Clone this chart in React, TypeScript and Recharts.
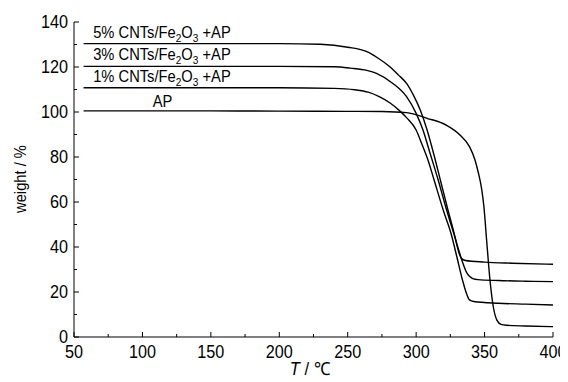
import React from 'react';
import { LineChart, Line, XAxis, YAxis, ReferenceDot } from 'recharts';

// temperature (°C) / weight (%); curves are offset by 10 % each
const apT = [57, 100, 150, 200, 250, 275, 293, 308, 322, 332, 339, 343, 345.5, 348, 349.5, 351.5, 354, 356.5, 359, 362, 366, 380, 400];
const apW = [100.5, 100.5, 100.5, 100.4, 100.3, 100.2, 99.7, 97.2, 94.2, 89.8, 84.6, 78.7, 72.9, 65.3, 58, 43, 25, 13, 7.5, 5.6, 5.2, 4.9, 4.6];

const p1T = [57, 150, 200, 240, 255, 265, 273, 281, 288, 293, 300, 304, 309, 313, 320, 325.5, 330, 334, 337, 339, 342, 360, 380, 400];
const p1W = [110.8, 110.8, 110.8, 110.5, 109.9, 108.8, 106.8, 104, 100.5, 97.5, 92, 86, 78, 70, 56, 46, 35, 25, 19, 16.5, 15.8, 15, 14.6, 14.2];

const p3T = [57, 150, 200, 240, 252, 264, 271, 283, 293, 300, 305, 310, 316, 322, 328, 333.5, 337, 340, 342, 345, 360, 380, 400];
const p3W = [120.3, 120.3, 120.3, 120.1, 119.5, 118.5, 117.2, 112.7, 106.8, 99.4, 92, 82, 70, 57, 45, 34, 28.5, 26.5, 25.8, 25.5, 25.1, 24.8, 24.6];

const p5T = [57, 150, 200, 230, 250, 264, 272, 281, 287, 293, 298, 303, 308, 313, 318, 323, 328, 331, 333, 336, 350, 370, 400];
const p5W = [130.4, 130.4, 130.4, 130.1, 128.8, 126.8, 124, 120, 116.5, 112.7, 107.5, 100.9, 92, 81, 69, 57, 45.5, 38, 35, 34, 33.3, 32.8, 32.3];

const xTicks = [50, 75, 100, 125, 150, 175, 200, 225, 250, 275, 300, 325, 350, 375, 400];
const yTicks = [0, 10, 20, 30, 40, 50, 60, 70, 80, 90, 100, 110, 120, 130, 140];

// label anchors (T, weight) for the curve names
const labelPcts = ['5%', '3%', '1%'];
const labelT = [64, 64, 64];
const labelW = [132.9, 123, 113.3];
const apLabelT = [107.5];
const apLabelW = [102.3];

const zip = (t: number[], w: number[]) => t.map((v, i) => ({ T: v, w: w[i] }));
const apData = zip(apT, apW);
const p1Data = zip(p1T, p1W);
const p3Data = zip(p3T, p3W);
const p5Data = zip(p5T, p5W);

const FONT = "'Liberation Sans', Arial, sans-serif";
const SQ = 0.9; // the original type is a condensed face

const XTick = (props: any) => {
  const { x, y, payload } = props;
  const major = payload.value % 50 === 0;
  return (
    <g>
      <line x1={x} y1={y} x2={x} y2={y - (major ? 5 : 3)} stroke="#000" strokeWidth={1} />
      {major && (
        <text
          transform={`translate(${x},${y + 21}) scale(${SQ},1)`}
          textAnchor="middle"
          fontSize={18}
          fontFamily={FONT}
          fill="#000"
        >
          {payload.value}
        </text>
      )}
    </g>
  );
};

const YTick = (props: any) => {
  const { x, y, payload } = props;
  const major = payload.value % 20 === 0;
  return (
    <g>
      <line x1={x} y1={y} x2={x + (major ? 5 : 3)} y2={y} stroke="#000" strokeWidth={1} />
      {major && (
        <text
          transform={`translate(${x - 6},${y + 6}) scale(${SQ},1)`}
          textAnchor="end"
          fontSize={18}
          fontFamily={FONT}
          fill="#000"
        >
          {payload.value}
        </text>
      )}
    </g>
  );
};

const nameShape = (pct: string) => (p: any) => (
  <text transform={`translate(${p.cx},${p.cy}) scale(0.92,1)`} fontSize={16} fontFamily={FONT} fill="#000">
    {pct} CNTs/Fe
    <tspan dy={4} fontSize={11}>2</tspan>
    <tspan dy={-4}>O</tspan>
    <tspan dy={4} fontSize={11}>3</tspan>
    <tspan dy={-4}> +AP</tspan>
  </text>
);

const apShape = (p: any) => (
  <text transform={`translate(${p.cx},${p.cy}) scale(0.92,1)`} fontSize={16} fontFamily={FONT} fill="#000">
    AP
  </text>
);

export default function App() {
  return (
    <div style={{ position: 'relative', width: 560, height: 374, background: '#fff' }}>
      <LineChart
        width={560}
        height={374}
        margin={{ top: 14, right: 15, bottom: 0, left: 0 }}
        style={{ overflow: 'visible' }}
      >
        <XAxis
          type="number"
          dataKey="T"
          domain={[50, 400]}
          ticks={xTicks}
          interval={0}
          tickSize={0}
          tickMargin={0}
          tick={<XTick />}
          tickLine={false}
          height={45}
          axisLine={{ stroke: '#000', strokeWidth: 1 }}
          allowDataOverflow
        />
        <YAxis
          type="number"
          domain={[0, 140]}
          ticks={yTicks}
          interval={0}
          tickSize={0}
          tickMargin={0}
          tick={<YTick />}
          tickLine={false}
          width={66}
          axisLine={{ stroke: '#000', strokeWidth: 1 }}
          allowDataOverflow
        />
        {[apData, p1Data, p3Data, p5Data].map((d, i) => (
          <Line
            key={i}
            data={d}
            dataKey="w"
            type="monotone"
            stroke="#000"
            strokeWidth={1.4}
            dot={false}
            activeDot={false}
            isAnimationActive={false}
          />
        ))}
        {labelPcts.map((pct, i) => (
          <ReferenceDot key={pct} x={labelT[i]} y={labelW[i]} r={0} shape={nameShape(pct)} ifOverflow="visible" />
        ))}
        <ReferenceDot x={apLabelT[0]} y={apLabelW[0]} r={0} shape={apShape} ifOverflow="visible" />
      </LineChart>
      <div
        style={{
          position: 'absolute',
          left: 21 - 8,
          top: 179 - 8,
          transform: 'translate(-50%, -50%) rotate(-90deg) scaleX(0.92)',
          transformOrigin: 'center',
          whiteSpace: 'nowrap',
          fontFamily: FONT,
          fontSize: 16,
          color: '#000',
          lineHeight: '18px',
        }}
      >
        weight / %
      </div>
      <div
        style={{
          position: 'absolute',
          left: 310 - 8,
          top: 359 - 8,
          transform: 'translateX(-50%) scaleX(0.92)',
          whiteSpace: 'nowrap',
          fontFamily: FONT,
          fontSize: 18,
          color: '#000',
          lineHeight: '20px',
        }}
      >
        <i>T</i> / ℃
      </div>
    </div>
  );
}
